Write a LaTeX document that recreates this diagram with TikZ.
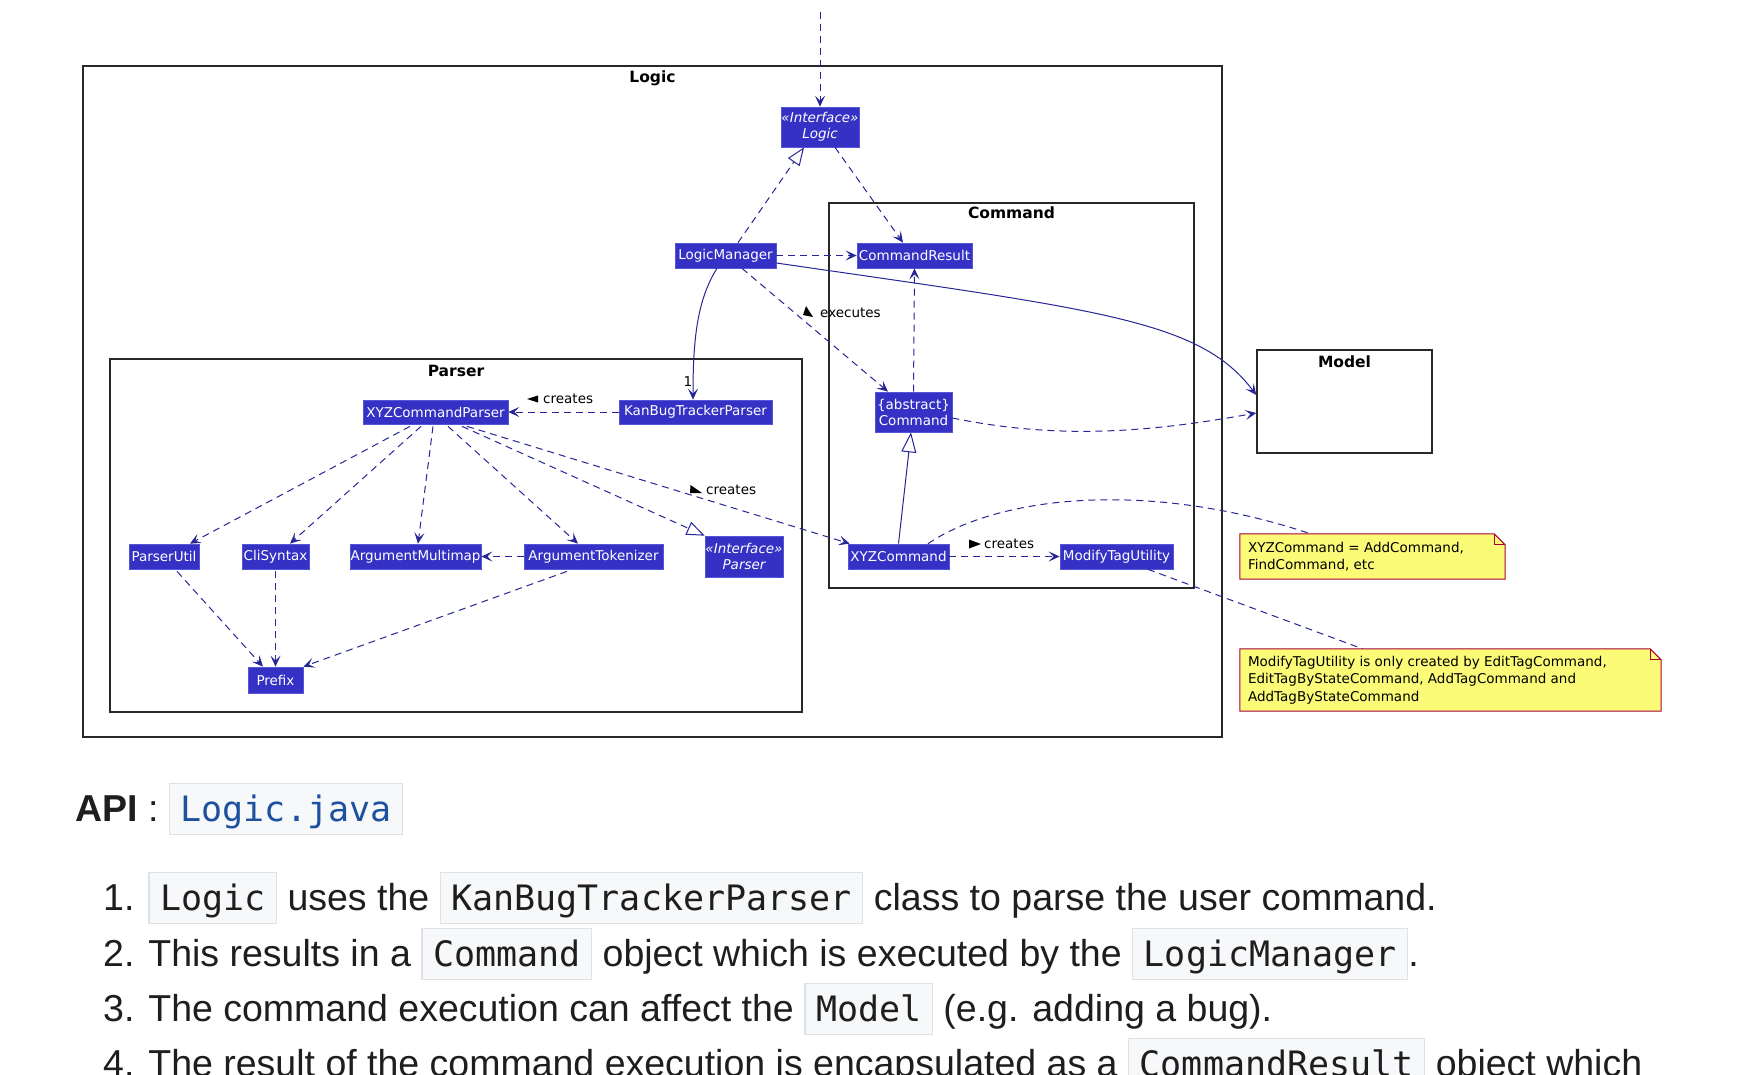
\documentclass[tikz,border=0pt]{standalone}
\usepackage{fontspec}
\setmainfont{DejaVu Sans}
\newfontfamily\bodyfont{Liberation Sans}
\newfontfamily\codefont{DejaVu Sans Mono}
\usetikzlibrary{arrows.meta,calc}
\definecolor{nodefill}{RGB}{53,49,196}
\definecolor{nodeline}{RGB}{85,85,215}
\definecolor{edgecol}{RGB}{38,38,150}
\definecolor{notefill}{RGB}{251,251,119}
\definecolor{noteline}{RGB}{168,0,54}
\definecolor{codebg}{RGB}{246,248,250}
\definecolor{codeborder}{RGB}{222,225,230}
\definecolor{codeblue}{RGB}{30,80,160}
\definecolor{framecol}{RGB}{40,40,40}
\definecolor{bodytext}{RGB}{30,30,30}
\newcommand\cbox[1]{{\setlength\fboxsep{0pt}\setlength\fboxrule{1.2pt}\fcolorbox{codeborder}{codebg}{\rule[-13pt]{0pt}{50pt}\hspace{10.5pt}{\codefont\fontsize{35}{40}\selectfont #1}\hspace{10.5pt}}}}
\newcommand\cboxblue[1]{{\setlength\fboxsep{0pt}\setlength\fboxrule{1.2pt}\fcolorbox{codeborder}{codebg}{\rule[-13pt]{0pt}{50pt}\hspace{10.5pt}{\codefont\fontsize{35}{40}\selectfont\color{codeblue}#1}\hspace{10.5pt}}}}
\begin{document}
\begin{tikzpicture}[x=1pt,y=-1pt,
  cls/.style={draw=nodeline, line width=0.7pt, fill=nodefill, text=white, inner sep=0pt, align=center, font=\fontsize{13.5}{16}\selectfont},
  iface/.style={cls, font=\itshape\fontsize{13.5}{16}\selectfont},
  grpframe/.style={draw=framecol, line width=1.5pt, inner sep=0pt},
  grplabel/.style={font=\bfseries\fontsize{15.5}{18}\selectfont, inner sep=0pt},
  lbl/.style={font=\fontsize{13.5}{16}\selectfont, inner sep=0pt, text=black},
  dep/.style={draw=edgecol, line width=1pt, dash pattern=on 7pt off 5pt, -{Stealth[length=11pt,width=10pt,inset=5pt]}},
  solidarr/.style={draw=edgecol, line width=1pt, -{Stealth[length=11pt,width=10pt,inset=5pt]}},
  realiz/.style={draw=edgecol, line width=1pt, dash pattern=on 7pt off 5pt, -{Triangle[open,length=18pt,width=14pt,fill=white]}},
  inherit/.style={draw=edgecol, line width=1pt, -{Triangle[open,length=20pt,width=15pt,fill=white]}},
  notelink/.style={draw=edgecol, line width=1pt, dash pattern=on 7pt off 5pt},
  noteanchor/.style={inner sep=0pt, draw=none},
  notetext/.style={inner sep=0pt, align=left, text=black, font=\fontsize{13.5}{17.5}\selectfont},
  bodyt/.style={inner sep=0pt, text=bodytext, font=\bodyfont\fontsize{37.5}{45}\selectfont}
]
\useasboundingbox (0,0) rectangle (1760,1074);
\clip (0,0) rectangle (1760,1074);
\fill[white] (0,0) rectangle (1760,1074);

% group frames
\node[grpframe, minimum width=1139, minimum height=671] (logicf) at (652.5,401.5) {};
\node[grpframe, minimum width=692, minimum height=353] (parserf) at (456,535.5) {};
\node[grpframe, minimum width=365, minimum height=385] (cmdf) at (1011.5,395.5) {};
\node[grpframe, fill=white, minimum width=175, minimum height=103] (model) at (1344.5,401.5) {};
\node[grplabel] (logicl) at (652.5,78) {Logic};
\node[grplabel] (parserl) at (456,371) {Parser};
\node[grplabel] (cmdl) at (1011.5,213) {Command};
\node[grplabel] (modell) at (1344.5,362) {Model};

% classes
\node[iface, minimum width=78, minimum height=40] (ilogic) at (820,127) {«Interface»\\Logic};
\node[cls, minimum width=101, minimum height=25] (lm) at (725.5,255.5) {LogicManager};
\node[cls, minimum width=115, minimum height=25] (cr) at (914.5,255.5) {CommandResult};
\node[cls, minimum width=77, minimum height=40] (acmd) at (913.5,412) {\{abstract\}\\Command};
\node[cls, minimum width=153, minimum height=24] (kbtp) at (695.5,412) {KanBugTrackerParser};
\node[cls, minimum width=145, minimum height=24] (xyzcp) at (435.5,412) {XYZCommandParser};
\node[cls, minimum width=70, minimum height=25] (pu) at (164,556.5) {ParserUtil};
\node[cls, minimum width=67, minimum height=25] (cli) at (275.5,556.5) {CliSyntax};
\node[cls, minimum width=131, minimum height=25] (amap) at (415.5,556.5) {ArgumentMultimap};
\node[cls, minimum width=139, minimum height=25] (atok) at (593.5,556.5) {ArgumentTokenizer};
\node[iface, minimum width=78, minimum height=41] (ip) at (744,556.5) {«Interface»\\Parser};
\node[cls, minimum width=55, minimum height=26] (prefix) at (275.5,680) {Prefix};
\node[cls, minimum width=101, minimum height=25] (xyzc) at (898.5,556.5) {XYZCommand};
\node[cls, minimum width=113, minimum height=25] (mtu) at (1116.5,556.5) {ModifyTagUtility};

% notes
\node[noteanchor, minimum width=265, minimum height=45] (note1) at (1372.5,556.5) {};
\node[noteanchor, minimum width=421, minimum height=62] (note2) at (1450.5,680) {};
\foreach \n in {note1,note2}{
  \filldraw[fill=notefill, draw=noteline, line width=1pt] (\n.north west) -- ([xshift=-11pt]\n.north east) -- ([yshift=-11pt]\n.north east) -- (\n.south east) -- (\n.south west) -- cycle;
  \draw[noteline, line width=1pt] ([xshift=-11pt]\n.north east) |- ([yshift=-11pt]\n.north east);
}
\node[notetext, anchor=west] (note1t) at ([xshift=8pt]note1.west) {XYZCommand = AddCommand,\\FindCommand, etc};
\node[notetext, anchor=west] (note2t) at ([xshift=8pt]note2.west) {ModifyTagUtility is only created by EditTagCommand,\\EditTagByStateCommand, AddTagCommand and\\AddTagByStateCommand};

% connectors
\coordinate (topc) at (820,12);
\draw[dep] (topc) -- (ilogic.north);
\draw[realiz] ([xshift=12.5pt]lm.north) -- ([xshift=-16pt]ilogic.south);
\draw[dep] ([xshift=15pt]ilogic.south) -- ([xshift=-11.5pt]cr.north);
\draw[dep] (lm.east) -- (cr.west);
\draw[solidarr] ([yshift=-7.5pt]lm.east) .. controls (1100,310) and (1200,320) .. ([yshift=6.5pt]model.west);
\draw[dep] ([xshift=16.5pt]lm.south) -- ([xshift=-25.5pt]acmd.north);
\draw[dep] (acmd.north) -- (cr.south);
\draw[dep] ([yshift=-6pt]acmd.east) .. controls (1060,440) and (1150,432) .. ([yshift=-11.5pt]model.west);
\draw[solidarr] ([xshift=-8.5pt]lm.south) .. controls (697,300) and (693,340) .. ([xshift=-2.5pt]kbtp.north);
\node[lbl] (one) at (688,382) {1};
\draw[dep] (kbtp.west) -- (xyzcp.east);
\draw[dep] ([xshift=-25.5pt,yshift=-2pt]xyzcp.south) -- ([xshift=26pt]pu.north);
\draw[dep] ([xshift=-14.5pt,yshift=-2pt]xyzcp.south) -- ([xshift=14.5pt]cli.north);
\draw[dep] ([xshift=-2.5pt,yshift=-2pt]xyzcp.south) -- ([xshift=2.5pt]amap.north);
\draw[dep] ([xshift=12.5pt,yshift=-2pt]xyzcp.south) -- ([xshift=-15.5pt]atok.north);
\draw[realiz] ([xshift=26.5pt,yshift=-2pt]xyzcp.south) -- (ip.north west);
\draw[dep] ([xshift=31.5pt,yshift=-2pt]xyzcp.south) -- ([xshift=2pt]xyzc.north west);
\draw[dep] (atok.west) -- (amap.east);
\draw[dep] ([xshift=13pt,yshift=-2pt]pu.south) -- ([xshift=-12.5pt]prefix.north);
\draw[dep] ([yshift=-2pt]cli.south) -- (prefix.north);
\draw[dep] ([xshift=-26.5pt,yshift=-2pt]atok.south) -- (prefix.north east);
\draw[inherit] (xyzc.north) -- ([xshift=-2.5pt]acmd.south);
\draw[dep] (xyzc.east) -- (mtu.west);
\draw[notelink] ([xshift=29.5pt]xyzc.north) .. controls (1000,495) and (1150,480) .. ([xshift=-62pt]note1.north);
\draw[notelink] ([xshift=31.5pt]mtu.south) -- ([xshift=-88pt]note2.north);

% edge labels
\fill[black] (527,399) -- (538,395.5) -- (538,402.5) -- cycle;
\node[lbl, anchor=west] (lbl1) at (543,399) {creates};
\fill[black] (690.5,485) -- (690,493) -- (702,493) -- cycle;
\node[lbl, anchor=west] (lbl2) at (706,490) {creates};
\fill[black] (806,306) -- (803,315) -- (813,317) -- cycle;
\node[lbl, anchor=west] (lbl3) at (820,313) {executes};
\fill[black] (969,539.5) -- (969,548.5) -- (981,544) -- cycle;
\node[lbl, anchor=west] (lbl4) at (984,544) {creates};

% text below
\node[bodyt, anchor=base west] (api) at (75,821) {\bfseries API\mdseries\ : \cboxblue{Logic.java}};
\node[bodyt, anchor=base west] (li1) at (103,910) {1. \cbox{Logic} uses the \cbox{KanBugTrackerParser} class to parse the user command.};
\node[bodyt, anchor=base west] (li2) at (103,966) {2. This results in a \cbox{Command} object which is executed by the \cbox{LogicManager}.};
\node[bodyt, anchor=base west] (li3) at (103,1021) {3. The command execution can affect the \cbox{Model} (e.g. adding a bug).};
\node[bodyt, anchor=base west] (li4) at (103,1076) {4. The result of the command execution is encapsulated as a \cbox{CommandResult} object which};
\end{tikzpicture}
\end{document}
